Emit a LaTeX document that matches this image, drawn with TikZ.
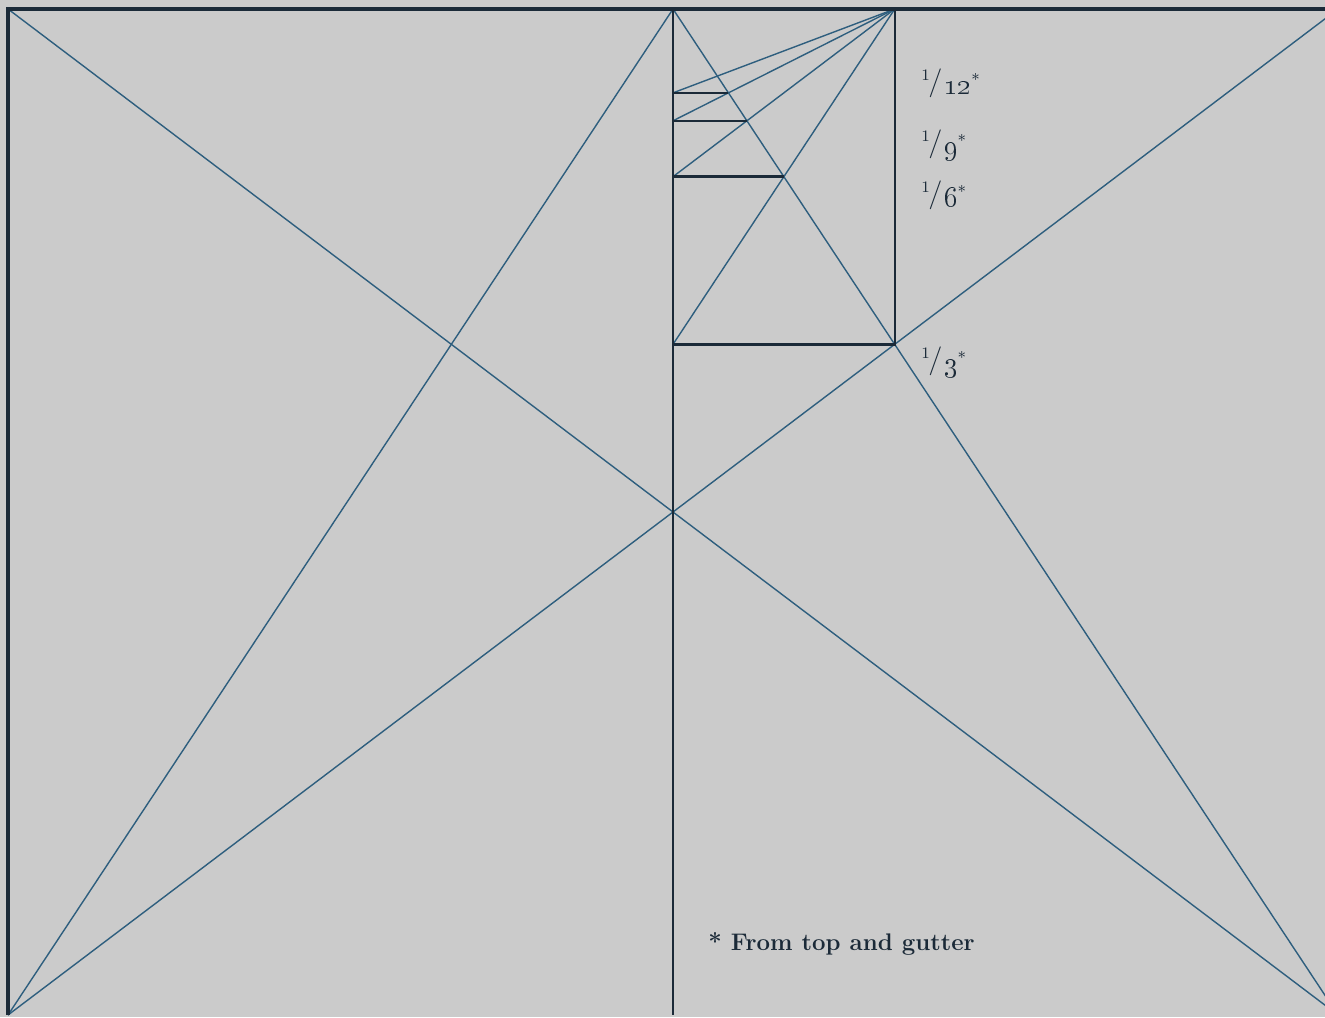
\documentclass[tikz,border=0pt]{standalone}
\usepackage{tikz}
\usetikzlibrary{calc}
\definecolor{paper}{HTML}{CBCBCB}
\definecolor{guide}{HTML}{2E5E7E}
\definecolor{ink}{HTML}{1B2A38}
\newcommand{\pfrac}[1]{\raisebox{0.75ex}{\footnotesize 1}\kern-0.05em/\kern0.05em\raisebox{-0.35ex}{\oldstylenums{#1}}\raisebox{0.35ex}{\footnotesize *}}

\begin{document}
\begin{tikzpicture}[x=0.5pt,y=-0.5pt,
  guideline/.style={guide,line width=0.7pt},
  blockline/.style={ink,line width=1.2pt},
  frameline/.style={ink,line width=1.6pt},
  lbl/.style={anchor=base west,inner sep=0pt,text=ink,font=\Large}]
\fill[paper] (0,0) rectangle (1325,1017);
\useasboundingbox (0,0) rectangle (1325,1017);
\clip (0,0) rectangle (1325,1017);
% spread corners and gutter
\coordinate (TL) at (8,9);
\coordinate (TR) at (1338,9);
\coordinate (BL) at (8,1015);
\coordinate (BR) at (1338,1015);
\coordinate (GT) at (673,9);
\coordinate (GB) at (673,1015);
% text block corner
\coordinate (K) at (intersection of GT--BR and BL--TR);
\coordinate (KT) at (K |- GT);
\coordinate (KL) at (GT |- K);
\coordinate (C6) at (intersection of GT--K and KT--KL);
\coordinate (L6) at (GT |- C6);
\coordinate (C9) at (intersection of GT--K and KT--L6);
\coordinate (L9) at (GT |- C9);
\coordinate (C12) at (intersection of GT--K and KT--L9);
\coordinate (L12) at (GT |- C12);
\draw[guideline] (TL) -- (BR);
\draw[guideline] (BL) -- (TR);
\draw[guideline] (BL) -- (GT) -- (BR);
\draw[guideline] (KT) -- (KL);
\draw[guideline] (KT) -- (L6);
\draw[guideline] (KT) -- (L9);
\draw[guideline] (KT) -- (L12);
\draw[blockline] (L6) -- (C6);
\draw[blockline] (L9) -- (C9);
\draw[blockline] (L12) -- (C12);
\draw[blockline] (KL) -- (K) -- (KT);
\draw[blockline] (GT) -- (GB);
\draw[frameline] (BL) -- (TL) -- (TR);
\node[lbl] (n12) at (921,90) {\pfrac{12}};
\node[lbl] (n9) at (921,151) {\pfrac{9}};
\node[lbl] (n6) at (921,202) {\pfrac{6}};
\node[lbl] (n3) at (921,368) {\pfrac{3}};
\node[lbl,font=\large\bfseries] (note) at (708,950) {* From top and gutter};
\end{tikzpicture}
\end{document}
